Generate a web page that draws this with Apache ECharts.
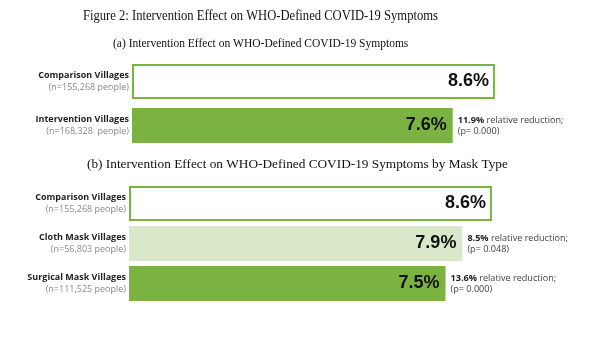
<!DOCTYPE html>
<html>
<head>
<meta charset="utf-8">
<script src="https://cdn.jsdelivr.net/npm/echarts@6/dist/echarts.min.js"></script>
<style>
  html, body { margin: 0; padding: 0; background: #fff; }
  #chart { width: 600px; height: 337px; }
</style>
</head>
<body>
<div id="chart"></div>
<script>
// Panel (a): comparison vs. intervention villages
const categoriesA = ['Comparison Villages', 'Intervention Villages'];
const sampleSizesA = ['(n=155,268 people)', '(n=168,328  people)'];
const valuesA = [8.6, 7.6];
const reductionsA = ['', '11.9%'];
const pValuesA = ['', '0.000'];

// Panel (b): split by mask type
const categoriesB = ['Comparison Villages', 'Cloth Mask Villages', 'Surgical Mask Villages'];
const sampleSizesB = ['(n=155,268 people)', '(n=56,803 people)', '(n=111,525 people)'];
const valuesB = [8.6, 7.9, 7.5];
const reductionsB = ['', '8.5%', '13.6%'];
const pValuesB = ['', '0.048', '0.000'];

const GREEN = '#7ab342';
const LIGHT = '#d9e8c8';

// bar look by role: outlined comparison, solid surgical/intervention, pale cloth
function barStyle(role) {
  if (role === 'comparison') return { color: '#ffffff', borderColor: GREEN, borderWidth: 2 };
  if (role === 'light') return { color: LIGHT, borderWidth: 0 };
  return { color: GREEN, borderWidth: 0 };
}
const rolesA = ['comparison', 'solid'];
const rolesB = ['comparison', 'light', 'solid'];

const catLabel = {
  fontFamily: 'Open Sans',
  align: 'right',
  rich: {
    b: { fontFamily: 'Open Sans', fontWeight: 'bold', fontSize: 9, color: '#1e1e1e', lineHeight: 12, align: 'right' },
    n: { fontFamily: 'Open Sans', fontSize: 9, color: '#8a8a8a', lineHeight: 12, align: 'right' }
  }
};

function yAxis(gridIndex, cats, sizes) {
  return {
    type: 'category', gridIndex: gridIndex, data: cats, inverse: true,
    axisLine: { show: false }, axisTick: { show: false }, splitLine: { show: false },
    axisLabel: Object.assign({
      margin: 3,
      formatter: function (v, i) { return '{b|' + v + '}\n{n|' + sizes[i] + '}'; }
    }, catLabel)
  };
}
function xAxis(gridIndex) {
  return { type: 'value', gridIndex: gridIndex, min: 0, max: 10, show: false };
}

const valueLabel = {
  show: true, position: 'insideRight', distance: 6,
  fontFamily: 'Liberation Sans', fontWeight: 'bold', fontSize: 18, color: '#111',
  formatter: function (p) { return p.value.toFixed(1) + '%'; }
};

function noteSeries(idx, vals, reds, ps) {
  return {
    type: 'bar', xAxisIndex: idx, yAxisIndex: idx, barWidth: 35, barGap: '-100%',
    silent: true, itemStyle: { color: 'rgba(0,0,0,0)' },
    data: vals,
    label: {
      show: true, position: 'right', distance: 5,
      formatter: function (p) {
        const r = reds[p.dataIndex];
        if (!r) return '';
        return '{bb|' + r + '}{t| relative reduction;}\n{t|(p= ' + ps[p.dataIndex] + ')}';
      },
      rich: {
        bb: { fontFamily: 'Open Sans', fontWeight: 'bold', fontSize: 9.1, color: '#222', lineHeight: 11 },
        t: { fontFamily: 'Open Sans', fontSize: 9.1, color: '#444', lineHeight: 11 }
      }
    },
    z: 3
  };
}

function mainSeries(idx, vals, roles) {
  return {
    type: 'bar', xAxisIndex: idx, yAxisIndex: idx, barWidth: 35,
    data: vals.map(function (v, i) { return { value: v, itemStyle: barStyle(roles[i]) }; }),
    label: valueLabel, z: 2
  };
}

// heading text in a slightly condensed serif
function heading(text, x, y, size, squeeze) {
  return {
    type: 'text', x: x, y: y, scaleX: squeeze, silent: true,
    style: {
      text: text, x: 0, y: 0, fill: '#111',
      font: size + 'px "Liberation Serif", "Times New Roman", serif',
      textVerticalAlign: 'middle', textAlign: 'left'
    }
  };
}

const chart = echarts.init(document.getElementById('chart'), null, { renderer: 'canvas' });
chart.setOption({
  animation: false,
  backgroundColor: '#ffffff',
  graphic: [
    heading('Figure 2: Intervention Effect on WHO-Defined COVID-19 Symptoms', 83, 16, 14, 0.9),
    heading('(a) Intervention Effect on WHO-Defined COVID-19 Symptoms', 113, 44, 13, 0.886),
    heading('(b) Intervention Effect on WHO-Defined COVID-19 Symptoms by Mask Type', 87, 165, 13.3, 1)
  ],
  grid: [
    { left: 132, top: 59.5, width: 422, height: 88 },
    { left: 129, top: 183.5, width: 422, height: 120 }
  ],
  xAxis: [xAxis(0), xAxis(1)],
  yAxis: [yAxis(0, categoriesA, sampleSizesA), yAxis(1, categoriesB, sampleSizesB)],
  series: [
    mainSeries(0, valuesA, rolesA),
    noteSeries(0, valuesA, reductionsA, pValuesA),
    mainSeries(1, valuesB, rolesB),
    noteSeries(1, valuesB, reductionsB, pValuesB)
  ]
});
</script>
</body>
</html>
